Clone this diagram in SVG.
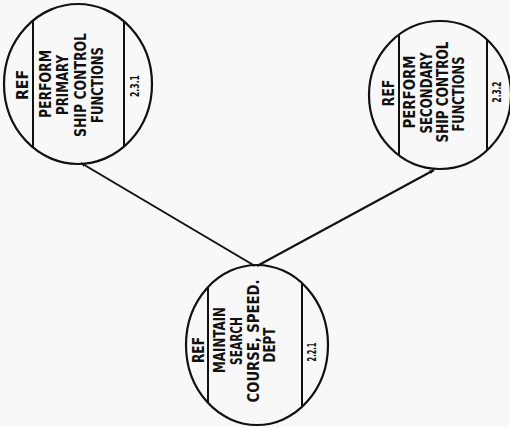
<svg xmlns="http://www.w3.org/2000/svg" width="510" height="427" viewBox="0 0 510 427">
<style>
.bg{fill:#f8f8f8}
.c{fill:none;stroke:#111;stroke-width:2.2}
.l{stroke:#111;stroke-width:2}
.t{font-family:'DejaVu Sans Condensed','Liberation Sans Narrow','DejaVu Sans',sans-serif;font-weight:bold;font-size:15.5px;fill:#111;text-anchor:middle}
.n{font-size:12px}
.e{fill:none;stroke:#111;stroke-width:2}
</style>
<defs>
<marker id="ah" viewBox="0 0 10 10" refX="9" refY="5" markerWidth="5" markerHeight="5" orient="auto" markerUnits="userSpaceOnUse">
<path d="M0,1 L10,5 L0,9 Z" fill="#111"/>
</marker>
</defs>
<rect class="bg" x="0" y="0" width="510" height="427"/>
<g id="connectors">
<line class="e" x1="255" y1="266" x2="81" y2="163" marker-end="url(#ah)"/>
<line class="e" x1="257" y1="266" x2="434" y2="170" marker-end="url(#ah)"/>
</g>
<g id="node-2.3.1">
<ellipse class="c" cx="78" cy="84" rx="74" ry="80"/>
<line class="l" x1="33" y1="20.5" x2="33" y2="147.5"/>
<line class="l" x1="124" y1="21.3" x2="124" y2="146.7"/>
<text class="t" transform="translate(27.6,85) rotate(-90)" textLength="30" lengthAdjust="spacingAndGlyphs">REF</text>
<text class="t" transform="translate(50.6,84) rotate(-90)" textLength="68" lengthAdjust="spacingAndGlyphs">PERFORM</text>
<text class="t" transform="translate(67.6,85) rotate(-90)" textLength="60" lengthAdjust="spacingAndGlyphs">PRIMARY</text>
<text class="t" transform="translate(85.6,85) rotate(-90)" textLength="104" lengthAdjust="spacingAndGlyphs">SHIP CONTROL</text>
<text class="t" transform="translate(102.6,85) rotate(-90)" textLength="76" lengthAdjust="spacingAndGlyphs">FUNCTIONS</text>
<text class="t n" transform="translate(139.4,86) rotate(-90)" textLength="22" lengthAdjust="spacingAndGlyphs">2.3.1</text>
</g>
<g id="node-2.3.2">
<ellipse class="c" cx="440" cy="95" rx="71" ry="74"/>
<line class="l" x1="399" y1="34.6" x2="399" y2="155.4"/>
<line class="l" x1="487" y1="39.5" x2="487" y2="150.5"/>
<text class="t" transform="translate(393.6,93) rotate(-90)" textLength="27" lengthAdjust="spacingAndGlyphs">REF</text>
<text class="t" transform="translate(414.6,92) rotate(-90)" textLength="73" lengthAdjust="spacingAndGlyphs">PERFORM</text>
<text class="t" transform="translate(431.6,93) rotate(-90)" textLength="81" lengthAdjust="spacingAndGlyphs">SECONDARY</text>
<text class="t" transform="translate(447.6,92) rotate(-90)" textLength="101" lengthAdjust="spacingAndGlyphs">SHIP CONTROL</text>
<text class="t" transform="translate(463.6,94) rotate(-90)" textLength="75" lengthAdjust="spacingAndGlyphs">FUNCTIONS</text>
<text class="t n" transform="translate(501.4,92) rotate(-90)" textLength="21" lengthAdjust="spacingAndGlyphs">2.3.2</text>
</g>
<g id="node-2.2.1">
<ellipse class="c" cx="257" cy="345" rx="71" ry="80"/>
<line class="l" x1="208" y1="287" x2="208" y2="403"/>
<line class="l" x1="302" y1="283" x2="302" y2="407"/>
<text class="t" transform="translate(203.6,350) rotate(-90)" textLength="26" lengthAdjust="spacingAndGlyphs">REF</text>
<text class="t" transform="translate(224.6,340) rotate(-90)" textLength="66" lengthAdjust="spacingAndGlyphs">MAINTAIN</text>
<text class="t" transform="translate(241.6,341) rotate(-90)" textLength="48" lengthAdjust="spacingAndGlyphs">SEARCH</text>
<text class="t" transform="translate(258.6,341) rotate(-90)" textLength="123" lengthAdjust="spacingAndGlyphs">COURSE, SPEED.</text>
<text class="t" transform="translate(274.6,345) rotate(-90)" textLength="35" lengthAdjust="spacingAndGlyphs">DEPT</text>
<text class="t n" transform="translate(316.4,352) rotate(-90)" textLength="19" lengthAdjust="spacingAndGlyphs">2.2.1</text>
</g>
</svg>
